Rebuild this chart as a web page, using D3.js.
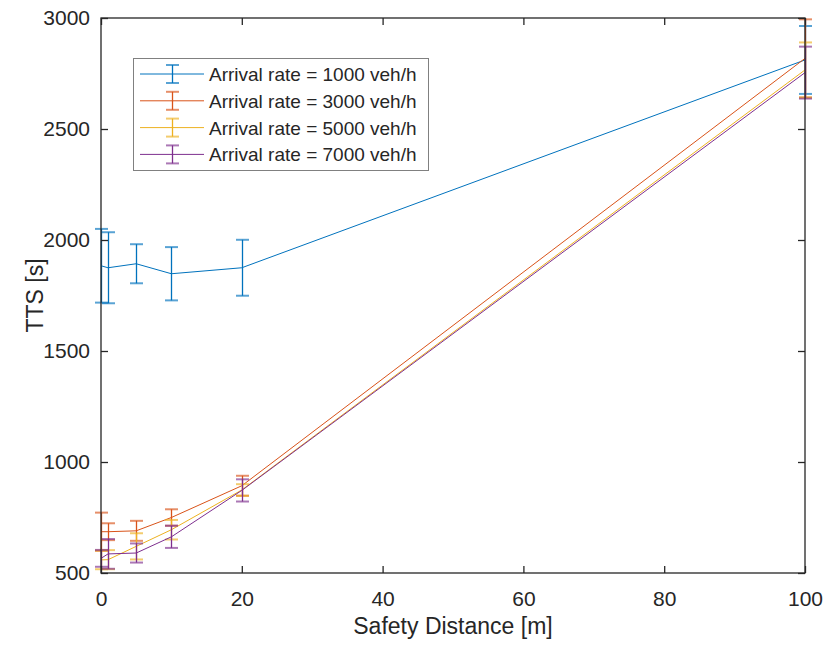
<!DOCTYPE html>
<html><head><meta charset="utf-8">
<script src="https://cdn.jsdelivr.net/npm/d3@7"></script>
<style>body{margin:0;background:#fff}svg{display:block}text{font-family:"Liberation Sans",Arial,sans-serif;fill:#262626}</style>
</head><body><svg id="c" width="825" height="645"></svg>
<script>
const distances = [0, 1, 5, 10, 20, 100];
const seriesNames = ["Arrival rate = 1000 veh/h","Arrival rate = 3000 veh/h","Arrival rate = 5000 veh/h","Arrival rate = 7000 veh/h"];
const mean1000 = [1884, 1875, 1893, 1848, 1875, 2811];
const err1000  = [166, 160, 88, 120, 126, 153];
const mean3000 = [686, 686, 690, 750, 893, 2818];
const err3000  = [86, 38, 45, 37, 45, 176];
const mean5000 = [559, 560, 620, 695, 874, 2766];
const err5000  = [42, 43, 59, 44, 26, 124];
const mean7000 = [566, 586, 590, 663, 872, 2754];
const err7000  = [38, 67, 43, 50, 50, 117];
const colors = ["#0072BD","#D95319","#EDB120","#7E2F8E"];
const xTicks = [0,20,40,60,80,100];
const yTicks = [500,1000,1500,2000,2500,3000];

const series = [[mean1000,err1000],[mean3000,err3000],[mean5000,err5000],[mean7000,err7000]];
const svg = d3.select("#c");
const L=101,R=805,T=18,B=573;
const x = d3.scaleLinear().domain([0,100]).range([L,R]);
const y = d3.scaleLinear().domain([500,3000]).range([B,T]);
const ax="#262626";

// series
const plot = svg.append("g");
series.forEach((s,i)=>{
  const [m,e]=s;
  const pts = distances.map((d,j)=>({d,m:m[j],e:e[j]}));
  plot.append("path").datum(pts)
    .attr("d", d3.line().x(p=>x(p.d)).y(p=>y(p.m)))
    .attr("fill","none").attr("stroke",colors[i]).attr("stroke-width",1);
  const g = plot.append("g").attr("stroke",colors[i]).attr("stroke-width",1.3);
  pts.forEach(p=>{
    const cx = Math.round(x(p.d))+0.5;
    g.append("line").attr("x1",cx).attr("x2",cx).attr("y1",y(p.m+p.e)).attr("y2",y(p.m-p.e));
    [p.m+p.e,p.m-p.e].forEach(v=>{
      g.append("line").attr("x1",cx-6.5).attr("x2",cx+6.5).attr("y1",y(v)).attr("y2",y(v)).attr("stroke-opacity",0.65).attr("stroke-width",2);
    });
  });
});

// axes box
svg.append("rect").attr("x",L).attr("y",T).attr("width",R-L).attr("height",B-T)
  .attr("fill","none").attr("stroke",ax).attr("stroke-width",1.3);
const xa = svg.append("g").attr("transform",`translate(0,${B})`)
  .call(d3.axisBottom(x).tickValues(xTicks).tickSize(-7).tickPadding(18).tickFormat(d3.format("d")));
const xt = svg.append("g").attr("transform",`translate(0,${T})`)
  .call(d3.axisTop(x).tickValues(xTicks).tickSize(-7).tickFormat(""));
const ya = svg.append("g").attr("transform",`translate(${L},0)`)
  .call(d3.axisLeft(y).tickValues(yTicks).tickSize(-7).tickPadding(11).tickFormat(d3.format("d")));
const yr = svg.append("g").attr("transform",`translate(${R},0)`)
  .call(d3.axisRight(y).tickValues(yTicks).tickSize(-7).tickFormat(""));
[xa,xt,ya,yr].forEach(g=>{
  g.select(".domain").remove();
  g.selectAll(".tick line").attr("stroke",ax).attr("stroke-width",1.3);
  g.selectAll("text").attr("font-size",21).attr("fill",ax).attr("font-family","Liberation Sans, Arial, sans-serif");
});

svg.append("text").attr("x",(L+R)/2).attr("y",634).attr("text-anchor","middle").attr("font-size",23).text("Safety Distance [m]");
svg.append("text").attr("transform",`translate(43,${(T+B)/2}) rotate(-90)`).attr("text-anchor","middle").attr("font-size",23).text("TTS [s]");

// legend
const lg = svg.append("g");
lg.append("rect").attr("x",133.5).attr("y",58.5).attr("width",295).attr("height",112)
  .attr("fill","#fff").attr("stroke","#808080").attr("stroke-width",1);
seriesNames.forEach((n,i)=>{
  const yy = 74 + i*26.8;
  lg.append("line").attr("x1",140).attr("x2",204).attr("y1",yy).attr("y2",yy).attr("stroke",colors[i]).attr("stroke-width",1);
  lg.append("line").attr("x1",172.5).attr("x2",172.5).attr("y1",yy-9).attr("y2",yy+9).attr("stroke",colors[i]).attr("stroke-width",1.3);
  [yy-9,yy+9].forEach(v=>lg.append("line").attr("x1",166).attr("x2",179).attr("y1",v).attr("y2",v).attr("stroke",colors[i]).attr("stroke-width",2).attr("stroke-opacity",0.65));
  lg.append("text").attr("x",209).attr("y",yy+7).attr("font-size",19).text(n);
});
</script></body></html>
